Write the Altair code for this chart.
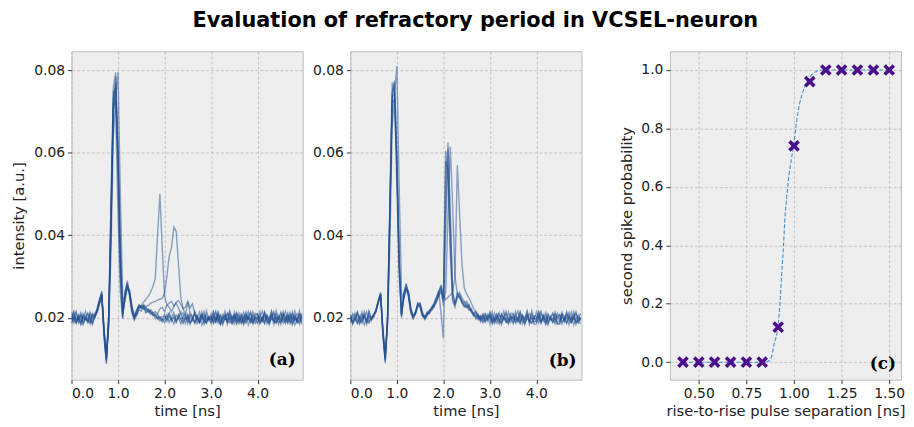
import altair as alt
import pandas as pd

# ---------------- data ----------------
TIME_NS = [
    0.00, 0.05, 0.10, 0.15, 0.20, 0.25, 0.30, 0.35, 0.40, 0.45,
    0.50, 0.55, 0.60, 0.65, 0.70, 0.75, 0.80, 0.85, 0.90, 0.95,
    1.00, 1.05, 1.10, 1.15, 1.20, 1.25, 1.30, 1.35, 1.40, 1.45,
    1.50, 1.55, 1.60, 1.65, 1.70, 1.75, 1.80, 1.85, 1.90, 1.95,
    2.00, 2.05, 2.10, 2.15, 2.20, 2.25, 2.30, 2.35, 2.40, 2.45,
    2.50, 2.55, 2.60, 2.65, 2.70, 2.75, 2.80, 2.85, 2.90, 2.95,
    3.00, 3.05, 3.10, 3.15, 3.20, 3.25, 3.30, 3.35, 3.40, 3.45,
    3.50, 3.55, 3.60, 3.65, 3.70, 3.75, 3.80, 3.85, 3.90, 3.95,
    4.00, 4.05, 4.10, 4.15, 4.20, 4.25, 4.30, 4.35, 4.40, 4.45,
    4.50, 4.55, 4.60, 4.65, 4.70, 4.75, 4.80, 4.85, 4.90, 4.95,
]

# intensities in units of 1e-4 a.u.
# panel (a): single-pulse traces plus two with a late second spike
A1 = [203, 188, 212, 196, 185, 208, 199, 191, 214, 197,
      206, 217, 240, 262, 165, 98, 196, 420, 700, 785,
      620, 380, 215, 258, 282, 255, 215, 198, 210, 226,
      228, 224, 220, 219, 212, 214, 205, 209, 199, 203,
      204, 196, 210, 192, 201, 189, 207, 195, 186, 203,
      186, 205, 194, 215, 200, 189, 209, 184, 202, 196,
      210, 193, 201, 187, 207, 198, 216, 192, 188, 205,
      195, 213, 190, 204, 184, 201, 197, 211, 193, 186,
      207, 185, 199, 210, 194, 188, 203, 215, 190, 200,
      189, 202, 216, 193, 205, 187, 198, 192, 211, 184]
A2 = [214, 197, 186, 203, 191, 209, 195, 200, 185, 206,
      202, 220, 245, 258, 150, 88, 210, 480, 760, 795,
      540, 300, 200, 262, 290, 260, 222, 202, 215, 230,
      222, 229, 215, 221, 214, 208, 206, 199, 203, 194,
      196, 208, 189, 202, 213, 193, 199, 186, 205, 210,
      192, 210, 204, 188, 199, 214, 183, 196, 207, 193,
      201, 187, 195, 212, 186, 198, 206, 190, 217, 199,
      185, 206, 193, 200, 213, 190, 202, 188, 196, 211,
      208, 191, 199, 186, 204, 196, 215, 193, 187, 202,
      197, 215, 188, 207, 194, 183, 201, 210, 198, 189]
A3 = [195, 213, 190, 204, 184, 201, 197, 211, 193, 186,
      208, 214, 236, 255, 175, 108, 178, 360, 640, 730,
      795, 500, 250, 240, 272, 266, 228, 205, 206, 222,
      230, 221, 226, 214, 217, 205, 209, 196, 200, 190,
      209, 191, 203, 197, 185, 206, 199, 214, 190, 198,
      208, 191, 199, 186, 204, 196, 215, 193, 187, 202,
      189, 202, 216, 193, 205, 187, 198, 192, 211, 184,
      203, 188, 212, 196, 185, 208, 199, 191, 214, 197,
      201, 187, 195, 212, 186, 198, 206, 190, 217, 199,
      210, 193, 201, 187, 207, 198, 216, 192, 188, 205]
A4 = [185, 206, 193, 200, 213, 190, 202, 188, 196, 211,
      200, 212, 232, 250, 168, 112, 205, 450, 710, 730,
      580, 330, 205, 248, 275, 258, 218, 194, 205, 220,
      216, 225, 212, 216, 208, 211, 198, 204, 192, 198,
      188, 201, 212, 194, 205, 190, 208, 197, 201, 186,
      207, 185, 199, 210, 194, 188, 203, 215, 190, 200,
      197, 215, 188, 207, 194, 183, 201, 210, 198, 189,
      192, 210, 204, 188, 199, 214, 183, 196, 207, 193,
      186, 205, 194, 215, 200, 189, 209, 184, 202, 196,
      214, 197, 186, 203, 191, 209, 195, 200, 185, 206]
A5 = [210, 193, 201, 187, 207, 198, 216, 192, 188, 205,
      210, 222, 242, 265, 155, 92, 200, 490, 750, 700,
      450, 260, 198, 265, 285, 250, 210, 200, 218, 232,
      225, 230, 223, 218, 220, 212, 215, 210, 222, 225,
      215, 230, 236, 240, 228, 238, 242, 232, 222, 208,
      238, 212, 199, 191, 205, 188, 198, 207, 194, 201,
      186, 205, 194, 215, 200, 189, 209, 184, 202, 196,
      208, 191, 199, 186, 204, 196, 215, 193, 187, 202,
      189, 202, 216, 193, 205, 187, 198, 192, 211, 184,
      201, 187, 195, 212, 186, 198, 206, 190, 217, 199]
A_S1 = [197, 215, 188, 207, 194, 183, 201, 210, 198, 189,
        204, 219, 239, 257, 170, 104, 185, 430, 720, 760,
        590, 350, 210, 252, 276, 262, 224, 205, 220, 228,
        230, 238, 245, 252, 262, 276, 295, 400, 500, 370,
        252, 232, 226, 214, 228, 236, 224, 208, 212, 198,
        201, 187, 195, 212, 186, 198, 206, 190, 217, 199,
        195, 213, 190, 204, 184, 201, 197, 211, 193, 186,
        214, 197, 186, 203, 191, 209, 195, 200, 185, 206,
        210, 193, 201, 187, 207, 198, 216, 192, 188, 205,
        185, 206, 193, 200, 213, 190, 202, 188, 196, 211]
A_S2 = [189, 202, 216, 193, 205, 187, 198, 192, 211, 184,
        201, 216, 236, 256, 162, 100, 192, 440, 730, 770,
        600, 345, 208, 250, 278, 259, 220, 200, 213, 228,
        224, 232, 227, 230, 235, 238, 240, 243, 245, 247,
        260, 300, 350, 370, 420, 410, 330, 250, 222, 226,
        240, 224, 234, 210, 200, 191, 206, 196, 187, 203,
        203, 188, 212, 196, 185, 208, 199, 191, 214, 197,
        207, 185, 199, 210, 194, 188, 203, 215, 190, 200,
        197, 215, 188, 207, 194, 183, 201, 210, 198, 189,
        192, 210, 204, 188, 199, 214, 183, 196, 207, 193]

# panel (b): every trace fires a second spike
B1 = [186, 205, 194, 215, 200, 189, 209, 184, 202, 196,
      205, 218, 240, 262, 165, 95, 192, 450, 740, 770,
      600, 350, 208, 255, 272, 250, 212, 198, 210, 232,
      228, 205, 198, 210, 214, 222, 232, 245, 258, 272,
      230, 580, 560, 380, 240, 226, 252, 248, 236, 228,
      235, 222, 215, 206, 212, 197, 205, 192, 208, 196,
      207, 185, 199, 210, 194, 188, 203, 215, 190, 200,
      201, 187, 195, 212, 186, 198, 206, 190, 217, 199,
      197, 215, 188, 207, 194, 183, 201, 210, 198, 189,
      195, 213, 190, 204, 184, 201, 197, 211, 193, 186]
B2 = [192, 210, 204, 188, 199, 214, 183, 196, 207, 193,
      209, 214, 236, 255, 158, 90, 205, 480, 770, 740,
      520, 300, 200, 262, 280, 262, 220, 200, 214, 236,
      234, 210, 200, 206, 218, 220, 228, 238, 252, 268,
      250, 470, 625, 430, 260, 232, 256, 262, 248, 240,
      226, 230, 218, 212, 201, 208, 194, 204, 189, 203,
      185, 206, 193, 200, 213, 190, 202, 188, 196, 211,
      210, 193, 201, 187, 207, 198, 216, 192, 188, 205,
      203, 188, 212, 196, 185, 208, 199, 191, 214, 197,
      208, 191, 199, 186, 204, 196, 215, 193, 187, 202]
B3 = [208, 191, 199, 186, 204, 196, 215, 193, 187, 202,
      203, 220, 242, 258, 175, 112, 182, 380, 660, 745,
      810, 520, 260, 245, 270, 265, 226, 206, 208, 230,
      236, 214, 202, 208, 212, 218, 226, 240, 255, 262,
      240, 262, 455, 615, 470, 300, 258, 250, 242, 236,
      240, 226, 218, 210, 216, 202, 196, 207, 191, 200,
      214, 197, 186, 203, 191, 209, 195, 200, 185, 206,
      197, 215, 188, 207, 194, 183, 201, 210, 198, 189,
      195, 213, 190, 204, 184, 201, 197, 211, 193, 186,
      186, 205, 194, 215, 200, 189, 209, 184, 202, 196]
B4 = [207, 185, 199, 210, 194, 188, 203, 215, 190, 200,
      206, 216, 238, 256, 168, 102, 198, 460, 720, 730,
      560, 330, 206, 250, 268, 256, 216, 202, 212, 228,
      232, 208, 196, 205, 216, 224, 230, 242, 262, 276,
      258, 244, 250, 255, 262, 300, 570, 450, 330, 272,
      258, 248, 236, 222, 214, 207, 199, 210, 194, 203,
      203, 188, 212, 196, 185, 208, 199, 191, 214, 197,
      189, 202, 216, 193, 205, 187, 198, 192, 211, 184,
      185, 206, 193, 200, 213, 190, 202, 188, 196, 211,
      192, 210, 204, 188, 199, 214, 183, 196, 207, 193]
B5 = [201, 187, 195, 212, 186, 198, 206, 190, 217, 199,
      207, 215, 241, 259, 160, 97, 188, 445, 745, 775,
      590, 340, 204, 258, 276, 254, 214, 200, 211, 229,
      226, 204, 200, 212, 218, 224, 236, 250, 266, 210,
      150, 420, 610, 450, 262, 236, 248, 256, 240, 232,
      224, 232, 214, 208, 197, 206, 190, 201, 211, 193,
      210, 193, 201, 187, 207, 198, 216, 192, 188, 205,
      186, 205, 194, 215, 200, 189, 209, 184, 202, 196,
      214, 197, 186, 203, 191, 209, 195, 200, 185, 206,
      207, 185, 199, 210, 194, 188, 203, 215, 190, 200]
B6 = [203, 188, 212, 196, 185, 208, 199, 191, 214, 197,
      200, 219, 235, 257, 170, 104, 200, 470, 735, 745,
      570, 320, 210, 254, 282, 258, 218, 204, 215, 235,
      230, 206, 202, 214, 210, 226, 234, 248, 262, 280,
      245, 605, 530, 350, 245, 232, 260, 252, 238, 226,
      230, 218, 222, 204, 207, 195, 203, 188, 199, 209,
      197, 215, 188, 207, 194, 183, 201, 210, 198, 189,
      208, 191, 199, 186, 204, 196, 215, 193, 187, 202,
      189, 202, 216, 193, 205, 187, 198, 192, 211, 184,
      185, 206, 193, 200, 213, 190, 202, 188, 196, 211]

SEPARATION_NS = [0.417, 0.500, 0.583, 0.667, 0.750, 0.833, 0.917,
                 1.000, 1.083, 1.167, 1.250, 1.333, 1.417, 1.500]
PROBABILITY = [0.0, 0.0, 0.0, 0.0, 0.0, 0.0, 0.12,
               0.74, 0.96, 1.0, 1.0, 1.0, 1.0, 1.0]
FIT_X = [0.417, 0.80, 0.86, 0.88, 0.895, 0.917, 0.926, 0.935, 0.945, 0.953,
         0.961, 0.970, 0.985, 1.000, 1.009, 1.022, 1.035, 1.055, 1.083,
         1.100, 1.120, 1.150, 1.500]
FIT_Y = [0.0, 0.0, 0.002, 0.015, 0.06, 0.13, 0.20, 0.30, 0.40, 0.50,
         0.56, 0.62, 0.69, 0.75, 0.80, 0.86, 0.90, 0.94, 0.975,
         0.988, 0.996, 1.0, 1.0]

TITLE = "Evaluation of refractory period in VCSEL-neuron"

# ---------------- styling ----------------
TRACE_COLOR = "#1f4e8f"
CURVE_COLOR = "#3d8fd1"
MARKER_COLOR = "#4b0f8c"
X_SHAPE = "M -1 -1 L 1 1 M 1 -1 L -1 1"
W, H = 233, 331
Y_DOMAIN = [0.005, 0.0846]
LABEL_FS = 14
TITLE_FS = 14.8


def trace_frame(traces):
    rows = []
    for name, vals in traces.items():
        assert len(vals) == len(TIME_NS), (name, len(vals))
        for t, v in zip(TIME_NS, vals):
            rows.append({"t": t, "v": v / 1e4, "trace": name})
    return pd.DataFrame(rows)


def trace_panel(df, label, y_title, label_x, label_y):
    x = alt.X("t:Q", scale=alt.Scale(domain=[0, 4.97], nice=False, zero=False),
              axis=alt.Axis(values=[0, 1, 2, 3, 4], format=".1f", title="time [ns]"))
    if y_title:
        yaxis = alt.Axis(values=[0.02, 0.04, 0.06, 0.08], format=".2f",
                         title=y_title, titlePadding=7)
    else:
        yaxis = alt.Axis(values=[0.02, 0.04, 0.06, 0.08], format=".2f", title=None)
    y = alt.Y("v:Q", scale=alt.Scale(domain=Y_DOMAIN, nice=False, zero=False), axis=yaxis)
    lines = alt.Chart(df).mark_line(
        color=TRACE_COLOR, opacity=0.5, strokeWidth=1.4, clip=True
    ).encode(x=x, y=y, detail="trace:N")
    lab = alt.Chart(pd.DataFrame({"label": [label]})).mark_text(
        font="DejaVu Serif", fontWeight="bold", fontSize=17, align="right",
        baseline="alphabetic", color="black"
    ).encode(text="label:N", x=alt.value(label_x), y=alt.value(label_y))
    return alt.layer(lines, lab).properties(width=W, height=H)


dfA = trace_frame({"A1": A1, "A2": A2, "A3": A3, "A4": A4, "A5": A5,
                   "S1": A_S1, "S2": A_S2})
dfB = trace_frame({"B1": B1, "B2": B2, "B3": B3, "B4": B4, "B5": B5, "B6": B6})

panel_a = trace_panel(dfA, "(a)", "intensity [a.u.]", 226, 316)
panel_b = trace_panel(dfB, "(b)", None, 228, 317)

# panel (c)
dfP = pd.DataFrame({"sep": SEPARATION_NS, "p": PROBABILITY})
dfF = pd.DataFrame({"sep": FIT_X, "p": FIT_Y})
cx = alt.X("sep:Q", scale=alt.Scale(domain=[0.348, 1.562], nice=False, zero=False),
           axis=alt.Axis(values=[0.5, 0.75, 1.0, 1.25, 1.5], format=".2f",
                         title="rise-to-rise pulse separation [ns]"))
cy = alt.Y("p:Q", scale=alt.Scale(domain=[-0.06, 1.064], nice=False, zero=False),
           axis=alt.Axis(values=[0, 0.2, 0.4, 0.6, 0.8, 1.0], format=".1f",
                         title="second spike probability", titlePadding=6))
fit = alt.Chart(dfF).mark_line(
    color=CURVE_COLOR, strokeDash=[4, 2], strokeWidth=1.1, interpolate="monotone"
).encode(x=cx, y=cy)
pts = alt.Chart(dfP).mark_point(
    shape=X_SHAPE, filled=False, strokeWidth=3.6, size=85, color=MARKER_COLOR, opacity=1
).encode(x=cx, y=cy)
lab_c = alt.Chart(pd.DataFrame({"label": ["(c)"]})).mark_text(
    font="DejaVu Serif", fontWeight="bold", fontSize=17, align="right",
    baseline="alphabetic", color="black"
).encode(text="label:N", x=alt.value(228), y=alt.value(320))
panel_c = alt.layer(fit, pts, lab_c).properties(width=W, height=H)

left = alt.hconcat(panel_a, panel_b, spacing=8)
chart = alt.hconcat(left, panel_c, spacing=37).properties(
    title=alt.TitleParams(TITLE, fontSize=21, fontWeight="bold", font="DejaVu Sans",
                          anchor="middle", dx=17, offset=20, color="black"),
    padding={"left": 3, "top": 0, "right": 0, "bottom": 0},
).configure_view(
    fill="#eeeeee", stroke="#bcbcbc", strokeWidth=1
).configure_axis(
    domain=False, grid=True, gridColor="#b2b2b2", gridDash=[3, 2], gridWidth=0.7,
    tickColor="#333333", tickSize=4, tickWidth=1, labelPadding=3,
    labelFont="DejaVu Sans", labelFontSize=LABEL_FS, labelColor="#222222",
    titleFont="DejaVu Sans", titleFontSize=TITLE_FS, titleFontWeight="normal",
    titleColor="#222222"
).configure_axisX(titlePadding=3)

chart.save("out.html", embed_options={"renderer": "svg", "actions": False})
